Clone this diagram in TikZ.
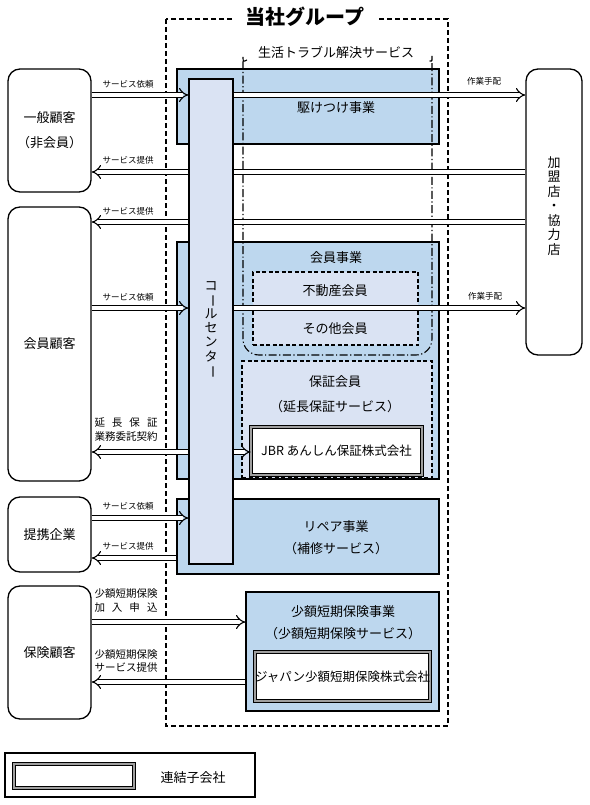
\documentclass[tikz,border=0pt]{standalone}
\usepackage{fontspec}
\setmainfont{Noto Sans CJK JP}
\usepackage{graphicx}
\usetikzlibrary{arrows.meta,positioning}

\definecolor{bizblue}{RGB}{189,215,238}
\definecolor{paleblue}{RGB}{218,227,243}

% vertical long-vowel mark for stacked text
\newcommand{\vbar}{\rotatebox[origin=c]{-90}{ー}}

\begin{document}
\begin{tikzpicture}[
    x=1pt, y=-1pt,
    customer/.style={
        draw,
        rounded corners=12pt,
        line width=1.3pt,
        fill=white,
        minimum width=83pt,
        inner sep=0pt,
        align=center,
        font=\fontsize{13}{25}\selectfont
    },
    business/.style={
        draw,
        line width=1.1pt,
        fill=bizblue,
        inner sep=0pt
    },
    member/.style={
        draw,
        dash pattern=on 4pt off 2.5pt,
        line width=1.1pt,
        fill=paleblue,
        inner sep=0pt
    },
    subsid/.style={
        draw,
        line width=0.9pt,
        double=gray!75,
        double distance=2pt,
        fill=white,
        inner sep=0pt,
        font=\fontsize{12.5}{15}\selectfont
    },
    caption/.style={
        align=center,
        inner sep=0pt,
        font=\fontsize{13}{25}\selectfont
    },
    flow/.style={
        double,
        line width=1.1pt,
        double distance=3.8pt
    },
    flowarrow/.style={
        flow,
        -{Implies[scale=1.7]}
    },
    tag/.style={
        inner sep=0pt,
        font=\fontsize{8.5}{10}\selectfont
    },
    tagtwo/.style={
        inner sep=0pt,
        align=center,
        font=\fontsize{10.5}{14}\selectfont
    }
]
    \useasboundingbox (0,0) rectangle (589,805);

    % Group frame with its title
    \draw[line width=1.1pt, dash pattern=on 5pt off 3pt] (166,19) rectangle (448,726);
    \node[fill=white, inner xsep=13pt, inner ysep=2pt,
          font=\fontsize{20}{22}\selectfont\bfseries] (group) at (305,17) {当社グループ};

    % Business boxes
    \node[business, minimum width=262pt, minimum height=75pt] (rush) at (308,106.5) {};
    \node[business, minimum width=262pt, minimum height=237pt] (membiz) at (308,360.5) {};
    \node[business, minimum width=262pt, minimum height=75pt] (repair) at (308,536.5) {};
    \node[business, minimum width=193pt, minimum height=119pt] (insbiz) at (342.5,651.5) {};

    % Member groups inside the member business
    \node[member, minimum width=165pt, minimum height=73pt] (realty) at (335.5,308.5) {};
    \node[member, minimum width=190pt, minimum height=117pt] (warranty) at (337,419.5) {};

    % Consolidated subsidiaries
    \node[subsid, minimum width=171pt, minimum height=48pt] (jbr) at (336.5,451) {JBR あんしん保証株式会社};
    \node[subsid, minimum width=173pt, minimum height=49pt] (japan) at (342.5,676.5) {ジャパン少額短期保険株式会社};

    % Texts of the business boxes
    \node[caption] (rushtxt) at (336,108) {駆けつけ事業};
    \node[caption] (membiztxt) at (336,258) {会員事業};
    \node[caption] (realtytxt) at (335,291) {不動産会員};
    \node[caption] (othertxt) at (335,329) {その他会員};
    \node[caption] (warrantytxt) at (335,394.5) {保証会員\\（延長保証サービス）};
    \node[caption, font=\fontsize{13}{22}\selectfont] (repairtxt) at (336,538) {リペア事業\\（補修サービス）};
    \node[caption, font=\fontsize{13}{22}\selectfont] (insbiztxt) at (343,623) {少額短期保険事業\\（少額短期保険サービス）};

    % Trouble-solving service region
    \draw[line width=1.1pt, dash pattern=on 8pt off 2.5pt on 1.2pt off 2.5pt, rounded corners=16pt]
        (247,60) .. controls (243,62) .. (243,72) -- (243,355) -- (432,355) -- (432,72)
        .. controls (432,62) .. (428,60);
    \node[caption] (lifesvc) at (336,52) {生活トラブル解決サービス};

    % Call centre
    \node[draw, line width=1.1pt, fill=paleblue, minimum width=44pt, minimum height=485pt,
          inner sep=0pt] (callc) at (211,321.5) {};
    \node[caption, font=\fontsize{13}{14.2}\selectfont] (callctxt) at (211,330)
        {コ\\\vbar\\ル\\セ\\ン\\タ\\\vbar};

    % Customers
    \node[customer, minimum height=123pt] (general) at (49.5,130.5) {一般顧客\\（非会員）};
    \node[customer, minimum height=274pt] (memcust) at (49.5,344) {会員顧客};
    \node[customer, minimum height=75pt] (partner) at (49.5,534.5) {提携企業};
    \node[customer, minimum height=133pt] (inscust) at (49.5,652.5) {保険顧客};

    % Franchise shops
    \node[customer, minimum width=56pt, minimum height=286pt] (shop) at (554,212) {};
    \node[caption, font=\fontsize{13}{14.5}\selectfont] (shoptxt) at (554,206)
        {加\\盟\\店\\・\\協\\力\\店};

    % Rows of the flows
    \coordinate (ya) at (0,95);
    \coordinate (yb) at (0,172);
    \coordinate (yc) at (0,222);
    \coordinate (yd) at (0,308);
    \coordinate (ye) at (0,452);
    \coordinate (yf) at (0,518);
    \coordinate (yg) at (0,558);
    \coordinate (yh) at (0,622);
    \coordinate (yi) at (0,682);

    % Flows between customers, call centre and shops
    \draw[flowarrow] (general.east |- ya) -- (callc.west |- ya);
    \draw[flowarrow] (callc.east |- ya) -- (shop.west |- ya);
    \draw[flow] (shop.west |- yb) -- (callc.east |- yb);
    \draw[flowarrow] (callc.west |- yb) -- (general.east |- yb);
    \draw[flow] (shop.west |- yc) -- (callc.east |- yc);
    \draw[flowarrow] (callc.west |- yc) -- (memcust.east |- yc);
    \draw[flowarrow] (memcust.east |- yd) -- (callc.west |- yd);
    \draw[flowarrow] (callc.east |- yd) -- (shop.west |- yd);
    \draw[flowarrow] (callc.west |- ye) -- (memcust.east |- ye);
    \draw[flowarrow] (callc.east |- ye) -- (jbr.west |- ye);
    \draw[flowarrow] (partner.east |- yf) -- (callc.west |- yf);
    \draw[flowarrow] (repair.west |- yg) -- (partner.east |- yg);
    \draw[flowarrow] (inscust.east |- yh) -- (insbiz.west |- yh);
    \draw[flowarrow] (insbiz.west |- yi) -- (inscust.east |- yi);

    % Flow labels
    \node[tag] (req1) at (128,84) {サービス依頼};
    \node[tag] (work1) at (484,81) {作業手配};
    \node[tag] (prov1) at (128,160) {サービス提供};
    \node[tag] (prov2) at (128,211) {サービス提供};
    \node[tag] (req2) at (128,297) {サービス依頼};
    \node[tag] (work2) at (485,296) {作業手配};
    \node[tagtwo] (contract) at (126,429.5)
        {\makebox[6em][s]{延\hfill 長\hfill 保\hfill 証}\\業務委託契約};
    \node[tag] (req3) at (128,506) {サービス依頼};
    \node[tag] (prov3) at (128,546) {サービス提供};
    \node[tagtwo] (apply) at (126,600.5)
        {少額短期保険\\\makebox[6em][s]{加\hfill 入\hfill 申\hfill 込}};
    \node[tagtwo, font=\fontsize{10.5}{13}\selectfont] (inssvc) at (126,661.5)
        {少額短期保険\\サービス提供};

    % Legend
    \node[draw, line width=1.1pt, minimum width=250pt, minimum height=44pt, inner sep=0pt] (legend) at (130,775) {};
    \node[subsid, minimum width=120pt, minimum height=24pt] (legbox) at (74,776) {};
    \node[caption] (legtxt) at (193,778) {連結子会社};

\end{tikzpicture}
\end{document}
